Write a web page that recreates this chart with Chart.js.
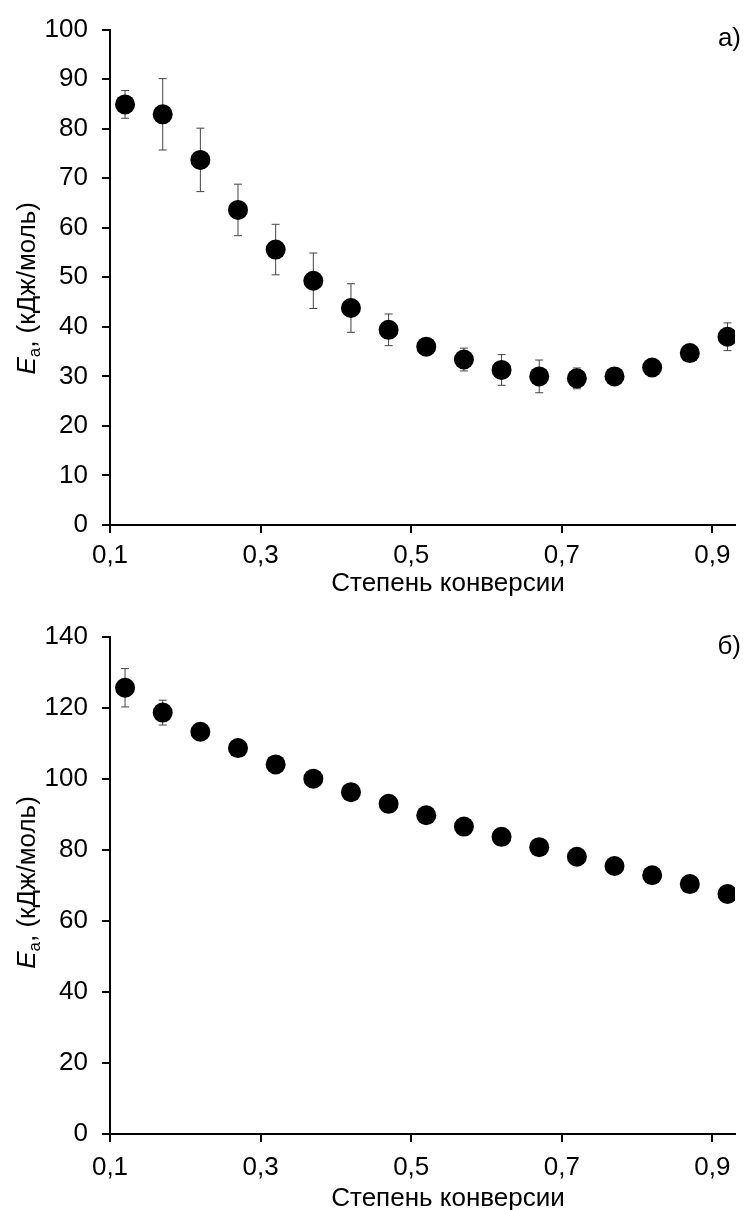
<!DOCTYPE html>
<html>
<head>
<meta charset="utf-8">
<script src="https://cdn.jsdelivr.net/npm/chart.js@4"></script>
<style>
    html, body { margin: 0; padding: 0; background: #fff; }
    canvas { display: block; }
</style>
</head>
<body>
<canvas id="chartA" width="746" height="605"></canvas>
<canvas id="chartB" width="746" height="605"></canvas>
<script>
// conversion degree (x), same for both panels
const conversion = [0.12, 0.17, 0.22, 0.27, 0.32, 0.37, 0.42, 0.47, 0.52, 0.57, 0.62, 0.67, 0.72, 0.77, 0.82, 0.87, 0.92];
const xTicks = [0.1, 0.3, 0.5, 0.7, 0.9];

// panel a)
const eaA = [84.9, 82.9, 73.7, 63.6, 55.6, 49.3, 43.8, 39.4, 36.0, 33.4, 31.3, 30.0, 29.6, 30.0, 31.8, 34.7, 38.0];
const errA = [2.8, 7.2, 6.4, 5.2, 5.1, 5.6, 4.9, 3.2, 0.8, 2.3, 3.1, 3.3, 2.1, 1.0, 1.0, 1.2, 2.8];

// panel б)
const eaB = [125.7, 118.7, 113.3, 108.7, 104.1, 100.1, 96.3, 93.0, 89.8, 86.6, 83.7, 80.8, 78.1, 75.5, 72.9, 70.4, 67.6];
const errB = [5.4, 3.5, 1.5, 1.5, 1.5, 1.5, 1.5, 1.5, 1.5, 1.5, 1.5, 1.5, 1.5, 1.5, 1.5, 1.5, 1.5];

const xTitle = 'Степень конверсии';
const FONT = '"Liberation Sans", Arial, sans-serif';
const FS = 26;

// error bars, panel letter and axis titles
const decorations = {
    id: 'decorations',
    beforeDatasetsDraw(chart, args, opts) {
        const ctx = chart.ctx;
        const xs = chart.scales.x, ys = chart.scales.y;
        ctx.save();
        ctx.strokeStyle = '#444';
        ctx.lineWidth = 1;
        opts.values.forEach((v, i) => {
            const x = xs.getPixelForValue(conversion[i]);
            const y1 = ys.getPixelForValue(v + opts.errors[i]);
            const y2 = ys.getPixelForValue(v - opts.errors[i]);
            ctx.beginPath();
            ctx.moveTo(x, y1); ctx.lineTo(x, y2);
            ctx.moveTo(x - 4, y1); ctx.lineTo(x + 4, y1);
            ctx.moveTo(x - 4, y2); ctx.lineTo(x + 4, y2);
            ctx.stroke();
        });
        ctx.restore();
    },
    afterDraw(chart, args, opts) {
        const ctx = chart.ctx;
        const area = chart.chartArea;
        ctx.save();
        ctx.fillStyle = '#000';
        ctx.textBaseline = 'middle';

        // panel letter
        ctx.font = FS + 'px ' + FONT;
        ctx.textAlign = 'right';
        ctx.fillText(opts.letter, chart.width - 5, area.top + opts.letterDy);

        // x title
        ctx.textAlign = 'center';
        ctx.fillText(xTitle, opts.xTitleX, area.bottom + opts.xTitleDy);

        // y title: E (italic) + subscript a + rest
        const partE = 'E', partSub = 'а', partRest = ', (кДж/моль)';
        const fE = 'italic ' + FS + 'px ' + FONT, fSub = '17px ' + FONT, fRest = FS + 'px ' + FONT;
        ctx.font = fE; const wE = ctx.measureText(partE).width;
        ctx.font = fSub; const wSub = ctx.measureText(partSub).width;
        ctx.font = fRest; const wRest = ctx.measureText(partRest).width;
        const total = wE + wSub + wRest;
        ctx.translate(26, (area.top + area.bottom) / 2 + opts.yTitleDy);
        ctx.rotate(-Math.PI / 2);
        ctx.textAlign = 'left';
        ctx.textBaseline = 'alphabetic';
        let cx = -total / 2;
        ctx.font = fE; ctx.fillText(partE, cx, 9); cx += wE;
        ctx.font = fSub; ctx.fillText(partSub, cx, 14); cx += wSub;
        ctx.font = fRest; ctx.fillText(partRest, cx, 9);
        ctx.restore();
    }
};

function makeChart(id, values, errors, yMax, yStep, padTop, xHeight, tickPad, deco) {
    const ctx = document.getElementById(id).getContext('2d');
    return new Chart(ctx, {
        type: 'scatter',
        data: {
            datasets: [{
                data: conversion.map((c, i) => ({ x: c, y: values[i] })),
                backgroundColor: '#000',
                borderWidth: 0,
                pointRadius: 10,
                pointHoverRadius: 10
            }]
        },
        options: {
            responsive: false,
            animation: false,
            devicePixelRatio: 1,
            layout: { padding: { top: padTop, right: 11, left: 0, bottom: 0 } },
            plugins: {
                legend: { display: false },
                tooltip: { enabled: false },
                decorations: Object.assign({ values: values, errors: errors }, deco)
            },
            scales: {
                x: {
                    type: 'linear',
                    min: 0.1,
                    max: 0.93,
                    afterBuildTicks: scale => { scale.ticks = xTicks.map(v => ({ value: v })); },
                    afterFit: scale => { scale.height = xHeight; },
                    border: { display: true, color: '#000', width: 2 },
                    grid: { display: true, drawOnChartArea: false, drawTicks: true, tickLength: 8, color: '#000', lineWidth: 2 },
                    ticks: {
                        color: '#000',
                        font: { family: FONT, size: FS },
                        padding: tickPad,
                        maxRotation: 0,
                        callback: v => v.toFixed(1).replace('.', ',')
                    }
                },
                y: {
                    min: 0,
                    max: yMax,
                    afterFit: scale => { scale.width = 110; },
                    border: { display: true, color: '#000', width: 2 },
                    grid: { display: true, drawOnChartArea: false, drawTicks: true, tickLength: 8, color: '#000', lineWidth: 2 },
                    ticks: {
                        stepSize: yStep,
                        color: '#000',
                        font: { family: FONT, size: FS },
                        padding: 14
                    }
                }
            }
        },
        plugins: [decorations]
    });
}

makeChart('chartA', eaA, errA, 100, 10, 29, 80, 7,
    { letter: 'а)', letterDy: 9, xTitleX: 448, xTitleDy: 59, yTitleDy: 11 });
makeChart('chartB', eaB, errB, 140, 20, 32, 76, 10,
    { letter: 'б)', letterDy: 10, xTitleX: 448, xTitleDy: 65, yTitleDy: -3 });
</script>
</body>
</html>
